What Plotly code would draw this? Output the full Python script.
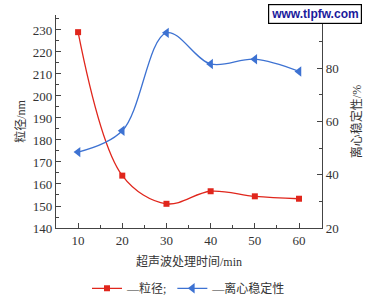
import plotly.graph_objects as go

time_min = [10, 20, 30, 40, 50, 60]
particle_size = [229, 163.8, 151, 156.7, 154.4, 153.3]
stability = [48.5, 56.5, 93.3, 81.6, 83.4, 78.8]

FONT = "Liberation Serif, Noto Sans CJK SC, serif"
RED = "#e0261c"
BLUE = "#3d72d2"
AX = "#444444"

fig = go.Figure()
fig.add_trace(go.Scatter(
    x=time_min, y=particle_size, name="—粒径;",
    mode="lines+markers", line=dict(color=RED, width=1.3, shape="spline", smoothing=1.0),
    marker=dict(symbol="square", size=6, color=RED), yaxis="y"))
fig.add_trace(go.Scatter(
    x=time_min, y=stability, name="—离心稳定性",
    mode="lines+markers", line=dict(color=BLUE, width=1.3, shape="spline", smoothing=1.0),
    marker=dict(symbol="triangle-left", size=9, color=BLUE), yaxis="y2"))

axis_common = dict(showline=True, linecolor=AX, linewidth=1.2, ticks="inside",
                   tickcolor=AX, ticklen=5, showgrid=False, zeroline=False,
                   automargin=False,
                   tickfont=dict(family=FONT, size=13, color="#333"))

fig.update_layout(
    width=367, height=298,
    margin=dict(l=56, r=45, t=15, b=70, autoexpand=False),
    paper_bgcolor="white", plot_bgcolor="white",
    font=dict(family=FONT, color="#333"),
    xaxis=dict(range=[5, 65.2], tickvals=[10, 20, 30, 40, 50, 60],
               minor=dict(tickvals=[15, 25, 35, 45, 55], ticks="inside", ticklen=3, tickcolor=AX),
               title=dict(text="超声波处理时间/min", font=dict(size=12), standoff=10),
               **axis_common),
    yaxis=dict(range=[140, 236.8], tickvals=[140, 150, 160, 170, 180, 190, 200, 210, 220, 230],
               minor=dict(dtick=5, ticks="inside", ticklen=3, tickcolor=AX),
               title=dict(text="粒径/nm", font=dict(size=12), standoff=4),
               **axis_common),
    yaxis2=dict(range=[20, 100], overlaying="y", side="right", anchor="x",
                tickvals=[20, 40, 60, 80, 100],
                minor=dict(dtick=10, ticks="inside", ticklen=3, tickcolor=AX),
                title=dict(text="离心稳定性/%", font=dict(size=12), standoff=8),
                **axis_common),
    showlegend=True,
    legend=dict(orientation="h", x=0.5, xanchor="center", y=-0.215, yanchor="top",
                font=dict(family=FONT, size=12, color="#333"), itemwidth=30,
                bgcolor="rgba(0,0,0,0)", tracegroupgap=0),
    annotations=[dict(text="<b>www.tlpfw.com</b>", xref="paper", yref="paper",
                      x=1.152, y=1.05, xanchor="right", yanchor="top", showarrow=False,
                      font=dict(family="Liberation Sans, Arial", size=12, color="#1a1a9c"),
                      bordercolor="black", borderwidth=1.2, borderpad=2, bgcolor="white")],
)

fig.write_html("out.html")
